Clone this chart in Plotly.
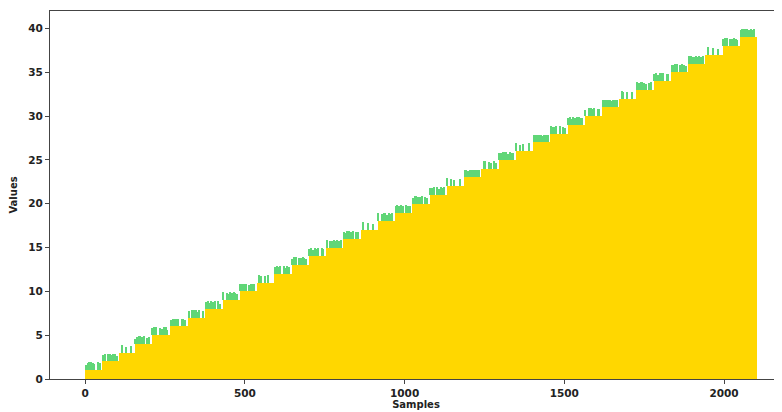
import plotly.graph_objects as go

# Step levels (yellow part) and where each step starts (samples)
levels = [1, 2, 3, 4, 5, 6, 7, 8, 9, 10, 11, 12, 13, 14, 15, 16, 17, 18, 19, 20,
          21, 22, 23, 24, 25, 26, 27, 28, 29, 30, 31, 32, 33, 34, 35, 36, 37, 38, 39]
step_starts = [0, 54, 107, 155, 208, 267, 322, 376, 430, 484, 538, 592, 646, 700,
               754, 808, 862, 916, 970, 1024, 1078, 1132, 1186, 1240, 1294, 1348,
               1402, 1456, 1510, 1564, 1618, 1672, 1726, 1780, 1834, 1888, 1942,
               1996, 2050]
last_sample = 2103

# Green excess above each step: one string per step, ten sub-bars each,
# digit = excess in tenths of a unit (0 = none)
green_tops = [
    "6899870980", "7908979860", "0900700800", "6899890780", "8990879960",
    "7889908870", "8099979080", "8979890960", "9087989870", "8899079890",
    "0980709000", "8989097980", "7990889870", "8979890980", "9088979890",
    "8799890880", "0900800700", "9089979890", "8979809880", "7998890870",
    "8890979890", "9080700800", "8979899880", "0990870960", "8899979880",
    "9070800900", "8989879890", "9889090870", "8979899880", "7099890880",
    "8899979890", "0980700800", "9899870890", "8979990880", "8899089870",
    "9988979890", "0900800700", "8990889870", "8999989890",
]

step_ends = step_starts[1:] + [last_sample]

yx, yy, yw = [], [], []
gx, gy, gb, gw = [], [], [], []
for lvl, s, e, tops in zip(levels, step_starts, step_ends, green_tops):
    w = e - s
    yx.append(s + w / 2)
    yy.append(lvl)
    yw.append(w)
    sub = w / len(tops)
    for i, ch in enumerate(tops):
        d = int(ch)
        if d == 0:
            continue
        gx.append(s + sub * (i + 0.5))
        gy.append(d / 10)
        gb.append(lvl)
        gw.append(sub * 0.75)

fig = go.Figure()
fig.add_trace(go.Bar(x=gx, y=gy, base=gb, width=gw,
                     marker=dict(color="#45d060", line=dict(width=0)),
                     opacity=0.85, showlegend=False))
fig.add_trace(go.Bar(x=yx, y=yy, width=yw,
                     marker=dict(color="#FFD700", line=dict(width=0)),
                     showlegend=False))

font = dict(family="DejaVu Sans", size=10, color="#222222")
tickfont = dict(family="DejaVu Sans", size=10.5, color="#222222")
# the page body adds an 8px offset, so the figure is sized to fit the window
fig.update_layout(
    width=774, height=404,
    margin=dict(l=42, r=0, t=3, b=33),
    paper_bgcolor="white", plot_bgcolor="white",
    barmode="overlay", bargap=0,
    font=font,
)
fig.update_xaxes(
    automargin=False,
    range=[-110, 2181.5], tickvals=[0, 500, 1000, 1500, 2000],
    ticktext=["<b>0</b>", "<b>500</b>", "<b>1000</b>", "<b>1500</b>", "<b>2000</b>"],
    tickfont=tickfont,
    showline=True, linecolor="#444444", linewidth=1, mirror=True,
    ticks="outside", ticklen=4, tickcolor="#444444",
    showgrid=False, zeroline=False,
    title=dict(text="<b>Samples</b>", standoff=1, font=font),
)
fig.update_yaxes(
    automargin=False,
    range=[0, 42], tickvals=[0, 5, 10, 15, 20, 25, 30, 35, 40],
    ticktext=["<b>%d</b>" % v for v in [0, 5, 10, 15, 20, 25, 30, 35, 40]],
    tickfont=tickfont,
    showline=True, linecolor="#444444", linewidth=1, mirror=False,
    ticks="outside", ticklen=4, tickcolor="#444444",
    showgrid=False, zeroline=False,
    title=dict(text="<b>Values</b>", standoff=8, font=font),
)

fig.write_html("out.html")
